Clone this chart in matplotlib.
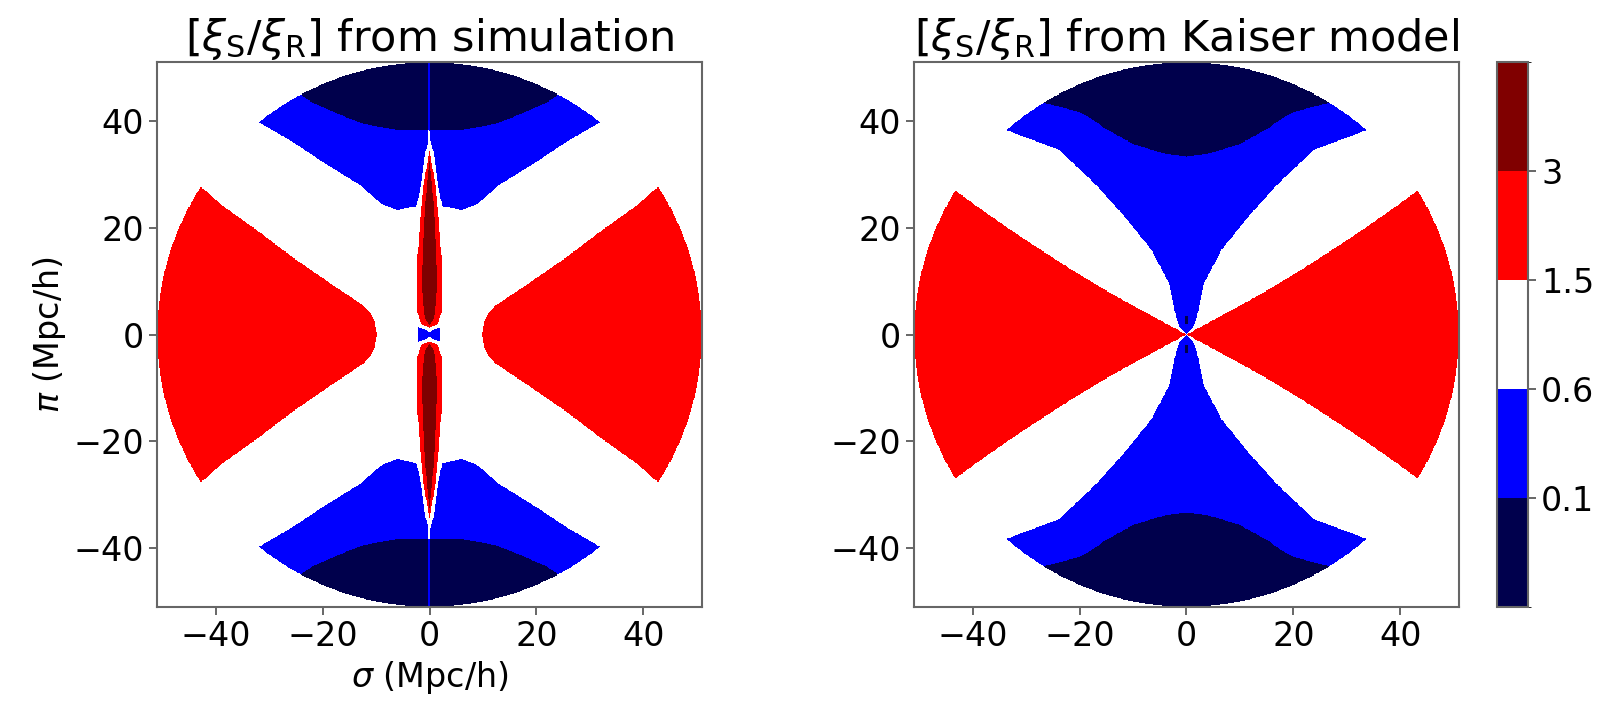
import numpy as np
import matplotlib
matplotlib.use("Agg")
import matplotlib.pyplot as plt
from matplotlib.colors import BoundaryNorm

# ratio levels and the value drawn inside each band
levels = [0.0, 0.1, 0.6, 1.5, 3.0, 5.0]
level_ticks = [0.1, 0.6, 1.5, 3]
level_labels = ["0.1", "0.6", "1.5", "3"]
level_values = [0.05, 0.35, 1.0, 2.0, 4.0]   # navy, blue, white, red, dark red

rmax = 51.0
ticks = [-40, -20, 0, 20, 40]

# simulation: band edges, (|sigma|, |pi|) in Mpc/h
sim_red_sig = [9.8, 10.3, 11.2, 12.5, 15.0, 18.0, 25.0, 32.0, 39.0, 42.0, 46.0, 52.0]
sim_red_pi = [0.0, 2.5, 4.2, 5.5, 7.2, 9.2, 14.0, 19.3, 24.3, 27.0, 30.0, 34.0]
sim_blue_sig = [0.0, 3.0, 6.0, 9.0, 13.0, 19.5, 26.0, 31.5, 40.0, 52.0]
sim_blue_pi = [24.0, 24.0, 23.3, 24.5, 28.0, 32.0, 36.3, 39.5, 45.0, 53.0]
sim_gap_pi = [20.0, 23.0, 24.5, 28.0, 34.0, 37.0]
sim_gap_w = [3.2, 2.8, 2.3, 1.6, 0.8, 0.0]
sim_navy_sig = [0.0, 6.0, 12.5, 17.5, 22.0, 25.0, 30.0, 40.0]
sim_navy_pi = [38.2, 38.3, 39.5, 41.5, 43.5, 45.5, 49.0, 55.0]
sim_spike_pi = [1.3, 2.0, 4.0, 9.0, 15.0, 22.0, 28.0, 34.5]
sim_spike_w = [0.0, 1.6, 2.2, 2.35, 2.2, 1.7, 1.1, 0.0]
sim_core_pi = [1.8, 2.5, 4.0, 9.0, 15.0, 22.0, 28.0, 32.5]
sim_core_w = [0.0, 0.6, 1.0, 1.4, 1.25, 0.9, 0.5, 0.0]
sim_knot_sig = [0.0, 1.0, 2.1]
sim_knot_pi = [0.45, 1.0, 1.35]

# Kaiser model: red wedge angle vs radius, blue half width vs |pi|, navy cap
kai_red_r = [0.0, 15.0, 30.0, 52.0]
kai_red_ang = [28.0, 28.5, 30.0, 32.0]
kai_blue_pi = [0.0, 1.5, 3.4, 6.0, 9.7, 15.9, 22.1, 28.3, 34.6, 38.3, 42.0, 52.0]
kai_blue_w = [0.0, 1.3, 2.0, 2.5, 3.3, 6.6, 11.6, 17.2, 23.9, 33.8, 44.0, 60.0]
kai_navy_sig = [0.0, 3.6, 5.8, 9.8, 12.0, 15.1, 17.6, 20.1, 27.0, 35.0]
kai_navy_pi = [33.3, 33.8, 34.4, 35.6, 36.8, 38.5, 40.3, 41.7, 43.5, 47.0]
kai_dot_w = 0.35
kai_dot_pi = [2.0, 3.5]

step = 0.1
grid = np.arange(-rmax, rmax + step / 2, step)
S, P = np.meshgrid(grid, grid)
aS, aP = np.abs(S), np.abs(P)
R = np.hypot(S, P)


def to_field(cls):
    field = np.take(level_values, cls)
    return np.where(R <= rmax, field, np.nan)


def simulation_field():
    cls = np.full(S.shape, 2)
    cls[(aS >= sim_red_sig[0]) & (aP < np.interp(aS, sim_red_sig, sim_red_pi))] = 3
    gap = np.interp(aP, sim_gap_pi, sim_gap_w, left=sim_gap_w[0], right=0.0)
    cls[(aP > np.interp(aS, sim_blue_sig, sim_blue_pi)) & (aS > gap)] = 1
    cls[aP > np.interp(aS, sim_navy_sig, sim_navy_pi)] = 0
    # thin streak along the line of sight
    streak = (aS < 0.2) & (aP > 35.0)
    cls[streak] = np.minimum(cls[streak] + 1, 2)
    # finger-of-god spike
    cls[aS < np.interp(aP, sim_spike_pi, sim_spike_w, left=0, right=0)] = 3
    cls[aS < np.interp(aP, sim_core_pi, sim_core_w, left=0, right=0)] = 4
    # small knot at the origin
    knot = (aS <= sim_knot_sig[-1]) & (aP < np.interp(aS, sim_knot_sig, sim_knot_pi))
    cls[knot] = 1
    return to_field(cls)


def kaiser_field():
    cls = np.full(S.shape, 2)
    ang = np.degrees(np.arctan2(aP, aS))
    cls[ang < np.interp(R, kai_red_r, kai_red_ang)] = 3
    cls[aS < np.interp(aP, kai_blue_pi, kai_blue_w)] = 1
    cls[aP > np.interp(aS, kai_navy_sig, kai_navy_pi)] = 0
    cls[(aS < kai_dot_w) & (aP > kai_dot_pi[0]) & (aP < kai_dot_pi[1])] = 0
    return to_field(cls)


cmap = matplotlib.colormaps["seismic"].resampled(5)
cmap.set_bad((1, 1, 1, 0))
norm = BoundaryNorm(levels, cmap.N)

fig = plt.figure(figsize=(16.08, 7.09), dpi=100)
ax1 = fig.add_axes([156 / 1608, 102 / 709, 547 / 1608, 545 / 709])
ax2 = fig.add_axes([913 / 1608, 102 / 709, 547 / 1608, 545 / 709])
cax = fig.add_axes([1497 / 1608, 102 / 709, 31 / 1608, 545 / 709])

fs = 24
panels = [(ax1, simulation_field(), "from simulation"),
          (ax2, kaiser_field(), "from Kaiser model")]
for ax, field, name in panels:
    im = ax.imshow(field, origin="lower", extent=[-rmax, rmax, -rmax, rmax],
                   cmap=cmap, norm=norm, interpolation="nearest")
    ax.set_xlim(-rmax, rmax)
    ax.set_ylim(-rmax, rmax)
    ax.set_xticks(ticks)
    ax.set_yticks(ticks)
    ax.tick_params(labelsize=fs, length=6, width=1.2, color="0.3")
    for sp in ax.spines.values():
        sp.set_color("0.4")
        sp.set_linewidth(1.5)
    ax.set_title(r"$[\xi_{\rm S}/\xi_{\rm R}]$ " + name, fontsize=31, pad=8)

ax1.set_xlabel(r"$\sigma$ (Mpc/h)", fontsize=fs)
ax1.set_ylabel(r"$\pi$ (Mpc/h)", fontsize=fs)

cb = fig.colorbar(im, cax=cax, ticks=level_ticks)
cb.ax.set_yticklabels(level_labels)
cb.ax.tick_params(labelsize=fs, length=6, width=1.2, color="0.3")
cb.outline.set_edgecolor("0.4")
cb.outline.set_linewidth(1.5)

fig.savefig("out.png", dpi=100)
